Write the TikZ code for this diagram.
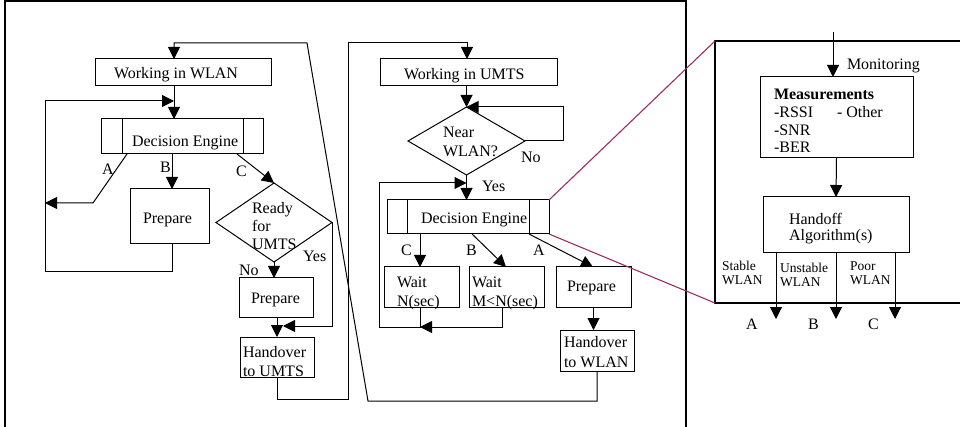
\documentclass[tikz,border=0pt]{standalone}
\usepackage{fontspec}
\setmainfont{Liberation Serif}
\usetikzlibrary{arrows.meta,shapes.geometric}
\definecolor{zoomline}{RGB}{155,45,98}
\begin{document}
\begin{tikzpicture}[x=1pt,y=-1pt,
  line width=1pt,
  every node/.style={inner sep=0pt, outer sep=0pt},
  box/.style={draw, rectangle},
  dia/.style={draw, diamond},
  % multi-line labels are placed by the baseline of their last line
  lbl/.style={anchor=base west, align=left, font=\fontsize{16}{18}\selectfont},
  small/.style={anchor=base west, align=left, font=\fontsize{13.5}{14.5}\selectfont},
  arr/.style={-{Triangle[length=12pt,width=12pt]}},
  frame/.style={line width=1.2pt},
  zoom/.style={draw=zoomline, line width=1.1pt},
]
\useasboundingbox (0,0) rectangle (960,427);

% outer frame and the enlarged panel
\draw[frame] (5,427) -- (5,1) -- (686,1) -- (686,427);
\coordinate (pnw) at (715,41);
\coordinate (psw) at (715,303);
\draw[frame] (960,41) -- (pnw) -- (psw) -- (960,303);

% ---------- WLAN side ----------
\node[box, minimum width=176, minimum height=27] (wwlan) at (183,72.5) {};
\node[box, minimum width=162, minimum height=35] (de1) at (182,136.5) {};
\draw ([xshift=21]de1.north west) -- ([xshift=21]de1.south west);
\draw ([xshift=-20]de1.north east) -- ([xshift=-20]de1.south east);
\node[box, minimum width=79, minimum height=55] (prepB) at (169.5,216.5) {};
\node[dia, minimum width=116, minimum height=79] (ready) at (274,222.5) {};
\node[box, minimum width=74, minimum height=39] (prepNo) at (276,297.5) {};
\node[box, minimum width=74, minimum height=40] (hoU) at (277,357) {};

\node[lbl] (wwlan-t) at (114,79) {Working in WLAN};
\node[lbl] (de1-t) at (132,147) {Decision Engine};
\node[lbl] (a1) at (102,175) {A};
\node[lbl] (b1) at (160,173) {B};
\node[lbl] (c1) at (236,177) {C};
\node[lbl] (prepB-t) at (143,224) {Prepare};
\node[lbl] (ready-t) at (252,250) {Ready\\for\\UMTS};
\node[lbl] (yes1) at (303,262) {Yes};
\node[lbl] (no1) at (239,276) {No};
\node[lbl] (prepNo-t) at (251,304) {Prepare};
\node[lbl, font=\fontsize{16}{19}\selectfont] (hoU-t) at (243,376) {Handover\\to UMTS};

% ---------- UMTS side ----------
\node[box, minimum width=177, minimum height=27] (wumts) at (468.5,72.5) {};
\node[dia, minimum width=117, minimum height=68] (near) at (466.5,141) {};
\node[box, minimum width=162, minimum height=34] (de2) at (468,217) {};
\draw ([xshift=20]de2.north west) -- ([xshift=20]de2.south west);
\draw ([xshift=-20]de2.north east) -- ([xshift=-20]de2.south east);
\node[box, minimum width=75, minimum height=40] (waitN) at (421.5,287) {};
\node[box, minimum width=75, minimum height=40] (waitM) at (506.5,287) {};
\node[box, minimum width=75, minimum height=40] (prepA) at (593.5,287) {};
\node[box, minimum width=74, minimum height=41] (hoW) at (597,350.5) {};

\node[lbl] (wumts-t) at (404,79.5) {Working in UMTS};
\node[lbl, font=\fontsize{16}{18.5}\selectfont] (near-t) at (443,156.5) {Near\\WLAN?};
\node[lbl] (no2) at (521,163) {No};
\node[lbl] (yes2) at (482,192) {Yes};
\node[lbl] (de2-t) at (421,224) {Decision Engine};
\node[lbl] (c2) at (401,256) {C};
\node[lbl] (b2) at (466,256) {B};
\node[lbl] (a2) at (533,256) {A};
\node[lbl, font=\fontsize{16}{19}\selectfont] (waitN-t) at (397,306) {Wait\\N(sec)};
\node[lbl, font=\fontsize{16}{19}\selectfont] (waitM-t) at (472,306) {Wait\\M<N(sec)};
\node[lbl] (prepA-t) at (567,292) {Prepare};
\node[lbl, font=\fontsize{16}{20}\selectfont] (hoW-t) at (564,367) {Handover\\to WLAN};

% ---------- enlarged decision engine ----------
\node[box, minimum width=153, minimum height=81] (meas) at (836.5,117.5) {};
\node[box, minimum width=146, minimum height=56] (algo) at (836,225) {};
\node[lbl] (mon-t) at (847,70) {Monitoring};
\node[lbl, font=\fontsize{16}{17.7}\selectfont] (meas-t) at (774,153) {\textbf{Measurements}\\-RSSI\\-SNR\\-BER};
\node[lbl] (other-t) at (837,118) {- Other};
\node[lbl, font=\fontsize{16}{16.5}\selectfont] (algo-t) at (789,241) {Handoff\\Algorithm(s)};
\node[small] (stable-t) at (722,285) {Stable\\WLAN};
\node[small] (unstable-t) at (780,287) {Unstable\\WLAN};
\node[small] (poor-t) at (850,285) {Poor\\WLAN};
\node[lbl] (a3) at (746,329) {A};
\node[lbl] (b3) at (808,329) {B};
\node[lbl] (c3) at (868,329) {C};

% ---------- connectors, WLAN side ----------
\coordinate (wlanIn) at (174,43);
\coordinate (wlanBend) at (307,43);
\coordinate (wlanLow) at (368,401);
\coordinate (loopJoin) at (174,101);
\coordinate (loopCorner) at (45,272);
\coordinate (colB) at (172,0);
\coordinate (aKnee) at (93,203);
\coordinate (yesJoin) at (283,326);

\draw[arr] (wwlan.south -| wlanIn) -- (de1.north -| wlanIn);
\draw[arr] (prepB.south -| colB) |- (loopCorner) |- (loopJoin);
\draw[arr] ([xshift=26]de1.south west) -- (aKnee) -- (aKnee -| loopCorner);
\draw[arr] (de1.south -| colB) -- (prepB.north -| colB);
\draw[arr] ([xshift=-26]de1.south east) -- (ready.north);
\draw[arr] (ready.south) -- (prepNo.north -| ready.south);
\draw[arr] (ready.east) |- (yesJoin);
\draw[arr] (prepNo.south -| hoU.north) -- (hoU.north);

% ---------- connectors, UMTS side ----------
\coordinate (umtsRise) at (348,399);
\coordinate (umtsIn) at (467,43);
\coordinate (noCorner) at (563,107);
\coordinate (waitJoin) at (420,327);
\coordinate (waitLeft) at (379,183);
\coordinate (colM) at (502,0);

\draw[arr] (hoU.south) |- (umtsRise) |- (umtsIn) -- (wumts.north -| umtsIn);
\draw[arr] (wumts.south -| near.north) -- (near.north);
\draw[arr] (near.east) -| (noCorner) -- (near.north);
\draw[arr] (near.south) -- (de2.north -| near.south);
\draw[arr] (de2.south -| waitJoin) -- (waitN.north -| waitJoin);
\draw[arr] ([xshift=85]de2.south west) -- ([xshift=37]waitM.north west);
\draw[arr] ([xshift=-20]de2.south east) -- ([xshift=37]prepA.north west);
\draw[arr] (waitM.south -| colM) |- (waitJoin);
\draw[arr] (waitN.south -| waitJoin) -- (waitJoin) -| (waitLeft) -- (waitLeft -| near.south);
\draw[arr] (prepA.south) -- (prepA.south |- hoW.north);
\draw[arr] (hoW.south) |- (wlanLow) -- (wlanBend) -- (wlanIn) -- (wlanIn |- wwlan.north);

% ---------- zoom lines and enlarged view ----------
\draw[zoom] (de2.north east) -- (pnw);
\draw[zoom] (de2.south east) -- (psw);

\coordinate (monSrc) at (833,32);
\coordinate (outA) at (776,319);
\coordinate (outB) at (836,319);
\coordinate (outC) at (895,319);
\draw[arr] (monSrc) -- (monSrc |- meas.north);
\draw[arr] (meas.south) -- (algo.north);
\draw[arr] (algo.south -| outA) -- (outA);
\draw[arr] (algo.south -| outB) -- (outB);
\draw[arr] (algo.south -| outC) -- (outC);
\end{tikzpicture}
\end{document}
